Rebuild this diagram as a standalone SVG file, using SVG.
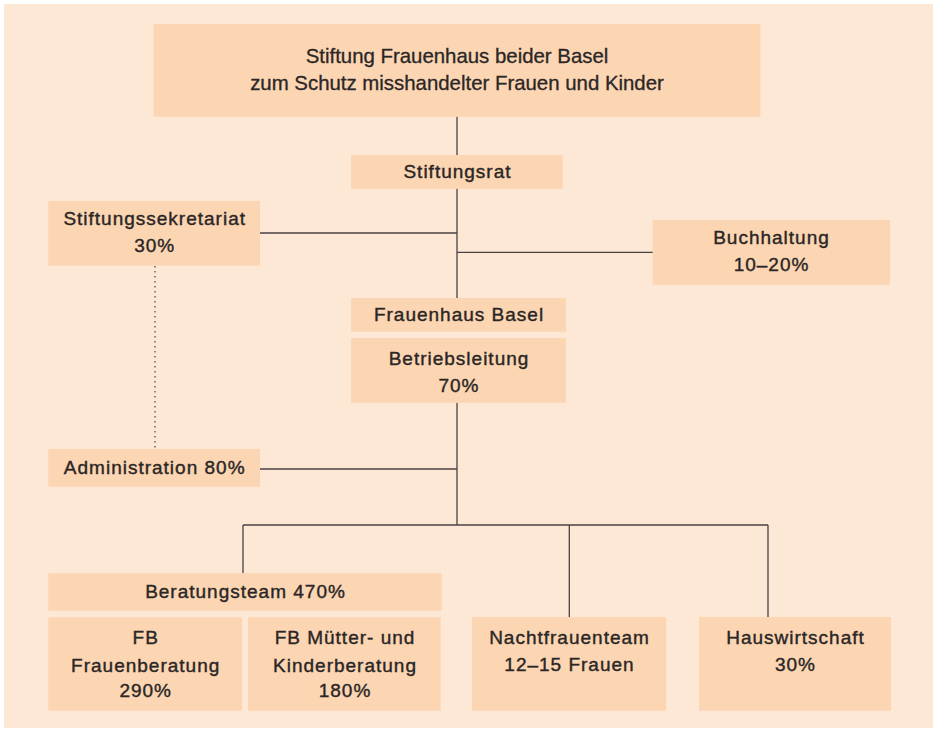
<svg xmlns="http://www.w3.org/2000/svg" width="933" height="729" viewBox="0 0 933 729">
<style>
.bx{fill:#FCD5B2}
.t{font-family:"Liberation Sans",Arial,sans-serif;font-size:19px;letter-spacing:1px;fill:#2a2626;stroke:#2a2626;stroke-width:0.4;text-anchor:middle}
.tt{font-family:"Liberation Sans",Arial,sans-serif;font-size:20.4px;fill:#2a2626;stroke:#2a2626;stroke-width:0.3;text-anchor:middle}
.ln{stroke:#4a4242;stroke-width:1.3;fill:none}
.dt{stroke:#5a5050;stroke-width:1.3;fill:none;stroke-dasharray:1.4 3.6}
</style>
<rect x="4" y="4" width="929" height="724" fill="#FDE8D6"/>
<g id="connectors">
<path class="ln" d="M457 116.7V155M457 188.7V298M457 402.7V525M260 233H457M457 252.3H653M260 469H457M243 525H768M243 525V573.3M569.3 525V617M768 525V617"/>
<path class="dt" d="M155 266V449"/>
</g>
<g id="stiftung"><rect class="bx" x="153.5" y="24" width="607" height="92.7"/>
<text class="tt" x="457" y="63.3">Stiftung Frauenhaus beider Basel</text>
<text class="tt" x="457" y="90">zum Schutz misshandelter Frauen und Kinder</text></g>
<g id="stiftungsrat"><rect class="bx" x="351" y="155" width="211.7" height="33.7"/>
<text class="t" x="457.5" y="177.7">Stiftungsrat</text></g>
<g id="sekretariat"><rect class="bx" x="48.3" y="201" width="211.7" height="64.7"/>
<text class="t" x="154.7" y="225.3">Stiftungssekretariat</text>
<text class="t" x="154.7" y="251.7">30%</text></g>
<g id="buchhaltung"><rect class="bx" x="652.7" y="220" width="237.3" height="64.7"/>
<text class="t" x="771.5" y="244.3">Buchhaltung</text>
<text class="t" x="771.5" y="270.7">10–20%</text></g>
<g id="frauenhaus"><rect class="bx" x="351" y="298" width="215" height="33.7"/>
<text class="t" x="459" y="320.7">Frauenhaus Basel</text></g>
<g id="betriebsleitung"><rect class="bx" x="351" y="338" width="215" height="64.7"/>
<text class="t" x="459" y="365">Betriebsleitung</text>
<text class="t" x="459" y="391.7">70%</text></g>
<g id="administration"><rect class="bx" x="48.3" y="449" width="211.7" height="37.7"/>
<text class="t" x="154.7" y="474">Administration 80%</text></g>
<g id="beratungsteam"><rect class="bx" x="48.3" y="573.3" width="393.4" height="37.4"/>
<text class="t" x="245.5" y="597.7">Beratungsteam 470%</text></g>
<g id="fb-frauen"><rect class="bx" x="48.3" y="617.3" width="193.7" height="93.4"/>
<text class="t" x="145.7" y="644">FB</text>
<text class="t" x="145.7" y="671.7">Frauenberatung</text>
<text class="t" x="145.7" y="696.7">290%</text></g>
<g id="fb-kinder"><rect class="bx" x="248" y="617.3" width="192.7" height="93.4"/>
<text class="t" x="345" y="644">FB Mütter- und</text>
<text class="t" x="345" y="671.7">Kinderberatung</text>
<text class="t" x="345" y="696.7">180%</text></g>
<g id="nachtfrauenteam"><rect class="bx" x="472" y="617" width="194" height="93.7"/>
<text class="t" x="569.5" y="644">Nachtfrauenteam</text>
<text class="t" x="569.5" y="670.7">12–15 Frauen</text></g>
<g id="hauswirtschaft"><rect class="bx" x="699" y="617" width="192" height="93.7"/>
<text class="t" x="795.5" y="644">Hauswirtschaft</text>
<text class="t" x="795.5" y="670.7">30%</text></g>
</svg>
